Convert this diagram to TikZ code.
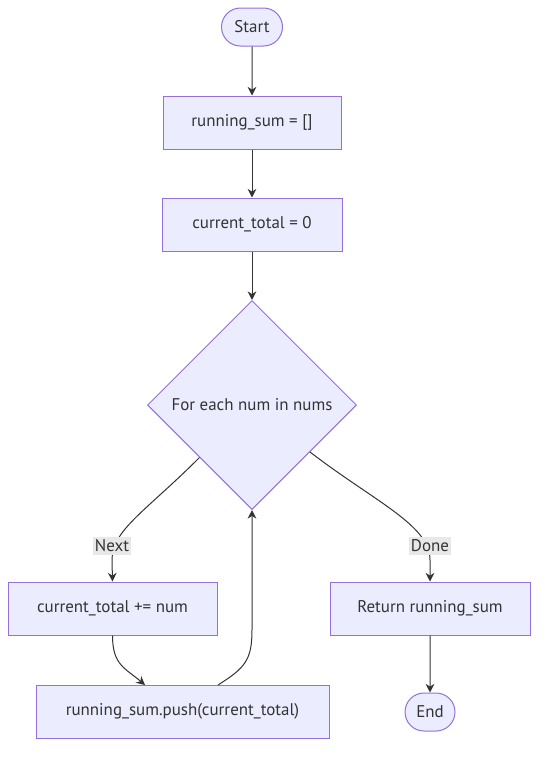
\documentclass[tikz,border=0pt]{standalone}
\usepackage{fontspec}
\setmainfont{PT Sans}
\usetikzlibrary{shapes.geometric,shapes.misc,arrows.meta}
\definecolor{nfill}{HTML}{ECECFF}
\definecolor{nstroke}{HTML}{9370DB}
\definecolor{eline}{HTML}{333333}
\definecolor{lblbg}{HTML}{E8E8E8}
\tikzset{
  lbl/.style={text=eline, font=\fontsize{12.7}{15}\selectfont},
  box/.style={lbl, draw=nstroke, fill=nfill, line width=0.75pt, rectangle, inner sep=0pt, minimum height=39.75pt},
  term/.style={lbl, draw=nstroke, fill=nfill, line width=0.75pt, rounded rectangle, inner sep=0pt, minimum height=28.5pt},
  choice/.style={lbl, draw=nstroke, fill=nfill, line width=0.75pt, diamond, inner sep=0pt, minimum width=156.75pt, minimum height=156.75pt},
  edge/.style={draw=eline, line width=0.75pt, -{Stealth[length=6.5pt,width=6.5pt]}},
  elabel/.style={lbl, fill=lblbg, inner xsep=1.5pt, inner ysep=2.5pt}
}
\begin{document}
\begin{tikzpicture}[x=0.75pt,y=-0.75pt]
\useasboundingbox (0,0) rectangle (546,757);
\node[term, minimum width=45.75pt] (start) at (252,27) {Start};
\node[box, minimum width=133.5pt] (rs) at (252,122.5) {running\_sum = []};
\node[box, minimum width=135pt] (ct) at (252,224.5) {current\_total = 0};
\node[choice] (loop) at (252,405) {For each num in nums};
\node[box, minimum width=156.75pt] (add) at (112.5,608.5) {current\_total += num};
\node[box, minimum width=219.75pt] (push) at (182.5,711.5) {running\_sum.push(current\_total)};
\node[box, minimum width=150pt] (ret) at (430,608.5) {Return running\_sum};
\node[term, minimum width=37.5pt] (end) at (430,712) {End};

\coordinate (doneout) at (310,452);
\coordinate (pushin) at (145,685);
\coordinate (pushout) at (218,685);

\draw[edge] (start) -- (rs);
\draw[edge] (rs) -- (ct);
\draw[edge] (ct) -- (loop);
\draw[edge] (loop.south west) .. controls (145,512) and (112,530) .. (112,560) -- (add.north);
\draw[edge] (doneout) .. controls (375,502) and (430,525) .. (430,560) -- (ret.north);
\draw[edge] (add.south) .. controls (112.5,665) and (125,668) .. (pushin);
\draw[edge] (pushout) .. controls (245,668) and (252,660) .. (252,630) -- (loop.south);
\draw[edge] (ret) -- (end);

\node[elabel] (lnext) at (112,546) {Next};
\node[elabel] (ldone) at (430,546) {Done};
\end{tikzpicture}
\end{document}
